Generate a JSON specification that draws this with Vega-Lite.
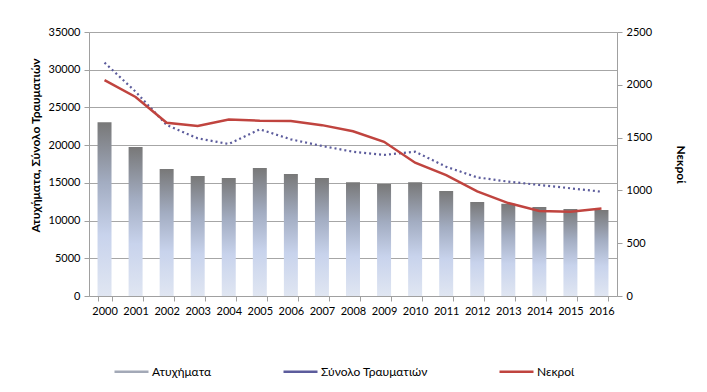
{
  "$schema": "https://vega.github.io/schema/vega-lite/v6.json",
  "autosize": "none",
  "padding": {"left": 89, "top": 32, "right": 90, "bottom": 96},
  "width": 528,
  "height": 264,
  "background": "white",
  "config": {
    "view": {"stroke": null},
    "font": "Lato, 'Noto Sans', sans-serif",
    "axis": {"labelFont": "Lato, 'Noto Sans', sans-serif", "labelFontSize": 11, "labelColor": "#000000", "domainColor": "#a0a0a0", "tickColor": "#a0a0a0", "tickSize": 5, "titleFont": "Lato, 'Noto Sans', sans-serif", "titleFontSize": 12, "titleFontWeight": "bold", "titleColor": "#000000"}
  },
  "data": {"values": [
    {"year": "2000", "acc": 23030, "inj": 30940, "dead": 2045},
    {"year": "2001", "acc": 19760, "inj": 27090, "dead": 1885},
    {"year": "2002", "acc": 16840, "inj": 22670, "dead": 1640},
    {"year": "2003", "acc": 15910, "inj": 20900, "dead": 1610},
    {"year": "2004", "acc": 15640, "inj": 20150, "dead": 1672},
    {"year": "2005", "acc": 16970, "inj": 22100, "dead": 1660},
    {"year": "2006", "acc": 16170, "inj": 20770, "dead": 1658},
    {"year": "2007", "acc": 15640, "inj": 19890, "dead": 1618},
    {"year": "2008", "acc": 15070, "inj": 19130, "dead": 1560},
    {"year": "2009", "acc": 14850, "inj": 18700, "dead": 1460},
    {"year": "2010", "acc": 15070, "inj": 19130, "dead": 1262},
    {"year": "2011", "acc": 13920, "inj": 17140, "dead": 1145},
    {"year": "2012", "acc": 12460, "inj": 15730, "dead": 990},
    {"year": "2013", "acc": 12240, "inj": 15160, "dead": 880},
    {"year": "2014", "acc": 11800, "inj": 14720, "dead": 805},
    {"year": "2015", "acc": 11530, "inj": 14280, "dead": 798},
    {"year": "2016", "acc": 11400, "inj": 13830, "dead": 828}
  ]},
  "layer": [
    {
      "layer": [
        {
          "mark": {"type": "bar", "color": {"gradient": "linear", "x1": 0, "y1": 0, "x2": 0, "y2": 1, "stops": [
            {"offset": 0, "color": "#787878"},
            {"offset": 0.35, "color": "#a3adc2"},
            {"offset": 0.65, "color": "#c8d3ec"},
            {"offset": 1, "color": "#e0e6f2"}]}},
          "encoding": {
            "x": {"field": "year", "type": "ordinal", "title": null,
              "scale": {"paddingInner": 0.55, "paddingOuter": 0.275},
              "axis": {"labelAngle": 0, "tickBand": "extent", "labelPadding": 4}},
            "y": {"field": "acc", "type": "quantitative", "title": "Ατυχήματα, Σύνολο Τραυματιών",
              "scale": {"domain": [0, 35000], "nice": false},
              "axis": {"values": [0, 5000, 10000, 15000, 20000, 25000, 30000, 35000], "format": "d", "labelOverlap": false, "grid": true, "gridColor": "#a6a6a6", "gridWidth": 1, "labelPadding": 4, "titlePadding": 6, "titleY": 113}}
          }
        },
        {
          "mark": {"type": "line", "strokeWidth": 2.2, "strokeDash": [2, 3]},
          "encoding": {
            "x": {"field": "year", "type": "ordinal"},
            "y": {"field": "inj", "type": "quantitative", "title": "Ατυχήματα, Σύνολο Τραυματιών",
              "axis": {"values": [0, 5000, 10000, 15000, 20000, 25000, 30000, 35000], "format": "d", "labelOverlap": false, "grid": true, "gridColor": "#a6a6a6", "gridWidth": 1, "labelPadding": 4, "titlePadding": 6, "titleY": 113}},
            "color": {"datum": "Σύνολο Τραυματιών"}
          }
        }
      ]
    },
    {
      "mark": {"type": "line", "strokeWidth": 2.5},
      "encoding": {
        "x": {"field": "year", "type": "ordinal"},
        "y": {"field": "dead", "type": "quantitative", "title": "Νεκροί",
          "scale": {"domain": [0, 2500], "nice": false},
          "axis": {"orient": "right", "values": [0, 500, 1000, 1500, 2000, 2500], "format": "d", "grid": false, "labelPadding": 4, "titlePadding": 22}},
        "color": {"datum": "Νεκροί",
          "scale": {"domain": ["Ατυχήματα", "Σύνολο Τραυματιών", "Νεκροί"], "range": ["#a3a9b7", "#5c5c9c", "#c0443f"]},
          "legend": {
            "title": null, "orient": "none", "legendX": 24, "legendY": 321, "direction": "horizontal", "columns": 3,
            "columnPadding": 66, "symbolSize": 1156, "symbolType": "stroke", "symbolStrokeWidth": 2.5, "labelFontSize": 12, "labelColor": "#000000", "labelOffset": 2
          }
        }
      }
    }
  ],
  "resolve": {"scale": {"y": "independent"}}
}
